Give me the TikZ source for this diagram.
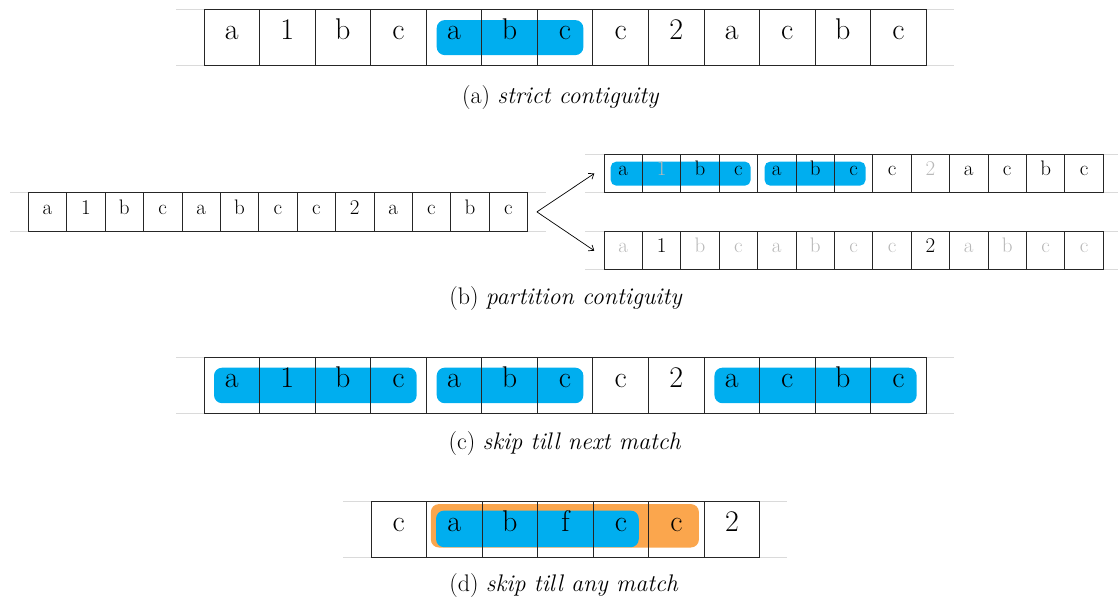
\documentclass[tikz,border=0pt]{standalone}
\usepackage{fontspec}
\usetikzlibrary{arrows.meta}
\pgfdeclarelayer{background}
\pgfsetlayers{background,main}
\definecolor{matchblue}{RGB}{0,174,239}
\definecolor{matchorange}{RGB}{251,166,77}
\definecolor{guidegray}{RGB}{218,218,218}
\tikzset{
  cellbig/.style={draw=black!85, line width=0.8pt, minimum width=55.55pt, minimum height=55.8pt,
    inner sep=0pt, outer sep=0pt, font=\fontsize{30}{30}\selectfont, text height=1ex, text depth=0pt},
  cellsmall/.style={draw=black!85, line width=0.8pt, minimum width=38.4pt, minimum height=38.3pt,
    inner sep=0pt, outer sep=0pt, font=\fontsize{21}{21}\selectfont, text height=1ex, text depth=0pt},
  txtk/.style={},
  txtg/.style={text=black!28},
  guide/.style={draw=guidegray, line width=0.8pt},
  hlbig/.style={fill=matchblue, rounded corners=8pt},
  hlsmall/.style={fill=matchblue, rounded corners=5.5pt},
  hlorange/.style={fill=matchorange, rounded corners=8pt},
  arr/.style={draw=black, line width=0.7pt, -{Straight Barb[length=4.5pt,width=7pt]}},
  capt/.style={font=\fontsize{24}{28}\selectfont, anchor=base, inner sep=0pt}
}
\begin{document}
\begin{tikzpicture}[x=1pt,y=-1pt]
\useasboundingbox (0,0) rectangle (1118,601);

% (a) strict contiguity
\foreach \t [count=\i from 0] in {a,1,b,c,a,b,c,c,2,a,c,b,c}
  \node[cellbig] (a\i) at ({204+(\i+0.5)*55.55}, 37.7) {\t};
% (c) skip till next match
\foreach \t [count=\i from 0] in {a,1,b,c,a,b,c,c,2,a,c,b,c}
  \node[cellbig] (c\i) at ({204+(\i+0.5)*55.55}, 385.3) {\t};
% (d) skip till any match
\foreach \t [count=\i from 0] in {c,a,b,f,c,c,2}
  \node[cellbig] (d\i) at ({371+(\i+0.5)*55.55}, 529) {\t};
% (b) partition contiguity
\foreach \t [count=\i from 0] in {a,1,b,c,a,b,c,c,2,a,c,b,c}
  \node[cellsmall] (b\i) at ({28.3+(\i+0.5)*38.4}, 211.9) {\t};
\foreach \t/\s [count=\i from 0] in {a/txtk,1/txtg,b/txtk,c/txtk,a/txtk,b/txtk,c/txtk,c/txtk,2/txtg,a/txtk,c/txtk,b/txtk,c/txtk}
  \node[cellsmall,\s] (u\i) at ({604+(\i+0.5)*38.4}, 173.5) {\t};
\foreach \t/\s [count=\i from 0] in {a/txtg,1/txtk,b/txtg,c/txtg,a/txtg,b/txtg,c/txtg,c/txtg,2/txtk,a/txtg,b/txtg,c/txtg,c/txtg}
  \node[cellsmall,\s] (l\i) at ({604+(\i+0.5)*38.4}, 250.7) {\t};

\begin{pgfonlayer}{background}
  % guide lines
  \foreach \r/\n/\e in {a/12/27.8, c/12/27.8, d/6/27.6, b/12/18.3, u/12/19, l/12/19} {
    \draw[guide] ([xshift=-\e pt]\r0.north west) -- ([xshift=\e pt]\r\n.north east);
    \draw[guide] ([xshift=-\e pt]\r0.south west) -- ([xshift=\e pt]\r\n.south east);
  }
  % highlights
  \fill[hlbig] ([xshift=10.5pt,yshift=-10.3pt]a4.north west) rectangle ([xshift=-9.5pt,yshift=10.5pt]a6.south east);
  \fill[hlbig] ([xshift=10pt,yshift=-10.3pt]c0.north west) rectangle ([xshift=-9.5pt,yshift=10pt]c3.south east);
  \fill[hlbig] ([xshift=10.5pt,yshift=-10.3pt]c4.north west) rectangle ([xshift=-9.5pt,yshift=10pt]c6.south east);
  \fill[hlbig] ([xshift=10.5pt,yshift=-10.3pt]c9.north west) rectangle ([xshift=-9.5pt,yshift=10pt]c12.south east);
  \fill[hlorange] ([xshift=4.3pt,yshift=-3pt]d1.north west) rectangle ([xshift=-5.4pt,yshift=9.4pt]d5.south east);
  \fill[hlbig] ([xshift=9.5pt,yshift=-9.5pt]d1.north west) rectangle ([xshift=-10pt,yshift=9.7pt]d4.south east);
  \fill[hlsmall] ([xshift=6.7pt,yshift=-7.3pt]u0.north west) rectangle ([xshift=-7pt,yshift=7pt]u3.south east);
  \fill[hlsmall] ([xshift=7pt,yshift=-7.3pt]u4.north west) rectangle ([xshift=-7.3pt,yshift=7pt]u6.south east);
\end{pgfonlayer}

% connectors
\coordinate (bsrc) at ([xshift=9.4pt]b12.east);
\draw[arr] (bsrc) -- ([xshift=-9.7pt]u0.west);
\draw[arr] (bsrc) -- ([xshift=-9.7pt]l0.west);

% captions
\node[capt] (capa) at (560.7,104) {(a) \textit{strict contiguity}};
\node[capt] (capb) at (566,305) {(b) \textit{partition contiguity}};
\node[capt] (capc) at (565,449.5) {(c) \textit{skip till next match}};
\node[capt] (capd) at (564,591) {(d) \textit{skip till any match}};
\end{tikzpicture}
\end{document}
